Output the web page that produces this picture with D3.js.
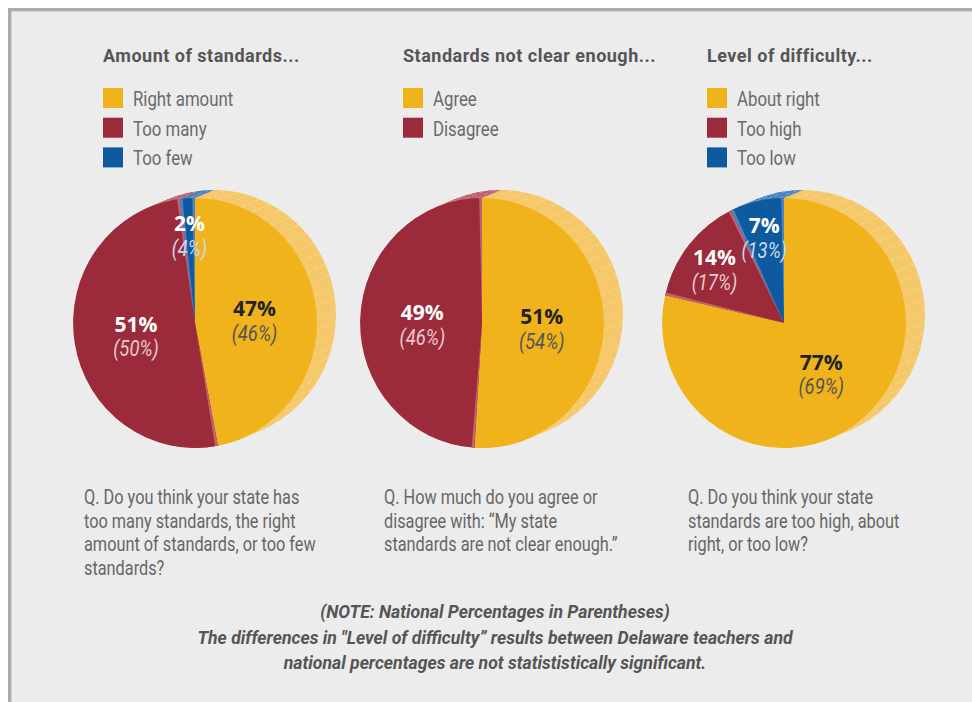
<!DOCTYPE html>
<html>
<head>
<meta charset="utf-8">
<script src="https://cdn.jsdelivr.net/npm/d3@7"></script>
<style>
  body { margin: 0; background: #fff; }
  svg { display: block; }
</style>
</head>
<body>
<svg id="chart" width="972" height="702"></svg>
<script>
// ---- Survey data -------------------------------------------------------
const panelTitles = ["Amount of standards...", "Standards not clear enough...", "Level of difficulty..."];

const amountCategories = ["Right amount", "Too many", "Too few"];
const amountValues = [47, 51, 2];
const amountNational = [46, 50, 4];

const clarityCategories = ["Agree", "Disagree"];
const clarityValues = [51, 49];
const clarityNational = [54, 46];

const difficultyCategories = ["About right", "Too high", "Too low"];
const difficultyValues = [77, 14, 7];
const difficultyNational = [69, 17, 13];

const questionLines = [
  ["Q. Do you think your state has", "too many standards, the right", "amount of standards, or too few", "standards?"],
  ["Q. How much do you agree or", "disagree with: \u201cMy state", "standards are not clear enough.\u201d"],
  ["Q. Do you think your state", "standards are too high, about", "right, or too low?"]
];

const noteLines = [
  "(NOTE: National Percentages in Parentheses)",
  "The differences in \"Level of difficulty\u201d results between Delaware teachers and",
  "national percentages are not statististically significant."
];

// ---- Styling --------------------------------------------------------------
const sliceColors = ["#f0b31b", "#9b2b3a", "#0e5a9e"];
const sideColors  = ["#f5c96b", "#c0636e", "#4f83c0"];
const mainLabelColors = ["#222222", "#ffffff", "#ffffff"];
const natLabelColors  = ["#555555", "#e8c9ce", "#c9d9ec"];

const panels = [
  { title: panelTitles[0], cats: amountCategories, vals: amountValues, nat: amountNational, q: questionLines[0], x: 84, cx: 195 },
  { title: panelTitles[1], cats: clarityCategories, vals: clarityValues, nat: clarityNational, q: questionLines[1], x: 384, cx: 482 },
  { title: panelTitles[2], cats: difficultyCategories, vals: difficultyValues, nat: difficultyNational, q: questionLines[2], x: 688, cx: 784 }
];

const svg = d3.select("#chart");

// panel background with a grey frame on the top and left
svg.append("rect")
  .attr("x", 9.5).attr("y", 9.5).attr("width", 1200).attr("height", 1200)
  .attr("fill", "#ececec").attr("stroke", "#ababab").attr("stroke-width", 3);
svg.append("rect")
  .attr("x", 11.5).attr("y", 11.5).attr("width", 1200).attr("height", 1200)
  .attr("fill", "none").attr("stroke", "#d2d2d2").attr("stroke-width", 1);

// condensed text: a regular face squeezed horizontally
function ctext(parent, x, y, str, o) {
  return parent.append("text")
    .attr("transform", `translate(${x},${y}) scale(${o.sx || 0.8},1)`)
    .attr("text-anchor", o.anchor || "start")
    .attr("dominant-baseline", o.baseline || "auto")
    .style("font-family", o.family || "Roboto, 'Liberation Sans', sans-serif")
    .style("font-size", o.size + "px")
    .style("font-weight", o.weight || 400)
    .style("font-style", o.italic ? "italic" : "normal")
    .style("letter-spacing", (o.spacing || 0) + "px")
    .attr("fill", o.color || "#666")
    .text(str);
}

const R = 125;            // pie radius
const SX = 0.975;         // slight horizontal foreshortening of the disc
const CY = 323;           // pie centre y
const DEPTH = [19.5, -8]; // extrusion offset of the back face
const STEPS = 26;

const pie = d3.pie().sort(null).value(d => d);
const arc = d3.arc().innerRadius(0).outerRadius(R);
const wall = 1.3 * Math.PI / 180;

panels.forEach(p => {
  const g = svg.append("g");

  // title
  ctext(g, p.x + 19, 62, p.title, { size: 18, weight: 700, color: "#555", sx: 1, spacing: 0.5 });

  // legend
  p.cats.forEach((c, i) => {
    const y = 88 + i * 29.7;
    g.append("rect").attr("x", p.x + 19).attr("y", y).attr("width", 20).attr("height", 20)
      .attr("fill", sliceColors[i]);
    ctext(g, p.x + 49, y + 18, c, { size: 21, color: "#6a6a6a", sx: 0.8 });
  });

  // pie
  const arcs = pie(p.vals);
  const pg = g.append("g").attr("transform", `translate(${p.cx},${CY}) scale(${SX},1)`);

  // extruded side
  for (let k = STEPS; k >= 1; k--) {
    const t = k / STEPS;
    pg.append("g").attr("transform", `translate(${DEPTH[0] * t},${DEPTH[1] * t})`)
      .selectAll("path").data(arcs).join("path")
      .attr("d", arc).attr("fill", (d, i) => sideColors[i]);
  }
  // faint facet lines along the side
  d3.range(0, 360, 5.5).forEach(a => {
    const r = a * Math.PI / 180;
    const x0 = R * Math.sin(r), y0 = -R * Math.cos(r);
    pg.append("line")
      .attr("x1", x0).attr("y1", y0).attr("x2", x0 + DEPTH[0]).attr("y2", y0 + DEPTH[1])
      .attr("stroke", "#fff").attr("stroke-opacity", 0.3).attr("stroke-width", 0.8)
      .attr("stroke-dasharray", "5,3");
  });

  // front face
  pg.selectAll("path.front").data(arcs).join("path")
    .attr("class", "front").attr("d", arc).attr("fill", (d, i) => sliceColors[i]);

  // light walls along the edges of the smaller-colour slices
  arcs.forEach((d, i) => {
    if (i === 0) return;
    [[d.startAngle, d.startAngle + wall], [d.endAngle - wall, d.endAngle]].forEach(([s, e]) => {
      pg.append("path")
        .attr("d", arc({ startAngle: s, endAngle: e }))
        .attr("fill", sideColors[i]);
    });
  });

  // value labels
  const total = d3.sum(p.vals);
  arcs.forEach((d, i) => {
    const lr = d.value / total >= 0.3 ? 0.49 * R : 0.73 * R;
    const [lx, ly] = d3.arc().innerRadius(lr).outerRadius(lr).centroid(d);
    const x = p.cx + lx * SX, y = CY + ly + 3;
    ctext(g, x, y - 12, p.vals[i] + "%", {
      size: 21, weight: 700, color: mainLabelColors[i], sx: 1, anchor: "middle",
      baseline: "central", family: "'Open Sans', sans-serif"
    });
    ctext(g, x, y + 13, "(" + p.nat[i] + "%)", {
      size: 22, italic: true, color: natLabelColors[i], sx: 0.84, anchor: "middle", baseline: "central"
    });
  });

  // question text
  p.q.forEach((line, i) => {
    ctext(g, p.x, 504 + i * 23.5, line, { size: 20, color: "#666", sx: 0.815 });
  });
});

// footnote
noteLines.forEach((line, i) => {
  ctext(svg, 495, 618 + i * 25.5, line, {
    size: 18, weight: 700, italic: true, color: "#555", sx: 0.98, anchor: "middle"
  });
});
</script>
</body>
</html>
